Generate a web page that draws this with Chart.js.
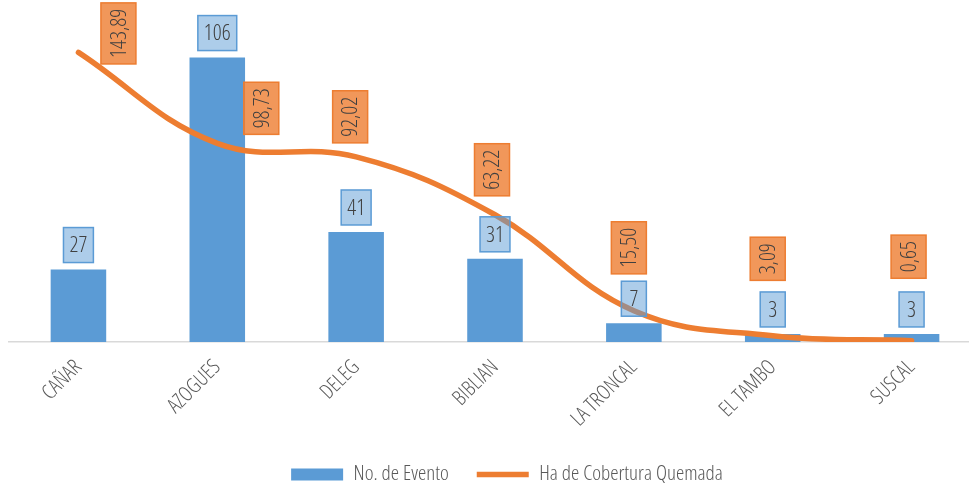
<!DOCTYPE html>
<html><head><meta charset="utf-8">
<script src="https://cdn.jsdelivr.net/npm/chart.js@4"></script>
<style>
html,body{margin:0;padding:0;background:#fff;overflow:hidden;}
#wrap{position:relative;width:969px;height:486px;overflow:hidden;}
#wrap canvas{position:absolute;left:0;top:0;}
</style></head><body>
<div id="wrap"><canvas id="c" width="981" height="486" style="width:981px;height:486px"></canvas></div>
<script>
// ---- data ----
const categories = ['CAÑAR','AZOGUES','DELEG','BIBLIAN','LA TRONCAL','EL TAMBO','SUSCAL'];
const eventos = [27, 106, 41, 31, 7, 3, 3];
const hectareas = [143.89, 98.73, 92.02, 63.22, 15.50, 3.09, 0.65];
const seriesNames = ['No. de Evento', 'Ha de Cobertura Quemada'];
// label box offsets (px) relative to each line point, as placed in the original
const lineLabelOffsets = [[40,-19],[44,-35],[-6,-40],[-3,-45],[-5,-63],[-5,-77],[-3,-84]];

const FAMILY = '"Open Sans", "Roboto", sans-serif';
const BLUE = '#5B9BD5', ORANGE = '#ED7D31';
const fmt = v => v.toFixed(2).replace('.', ',');

function box(ctx, x, y, w, h, fill, stroke){
  ctx.fillStyle = fill; ctx.fillRect(x, y, w, h);
  ctx.lineWidth = 1.5; ctx.strokeStyle = stroke; ctx.strokeRect(x, y, w, h);
}

const labelPlugin = {
  id: 'boxLabels',
  afterDatasetsDraw(chart){
    const ctx = chart.ctx;
    const barMeta = chart.getDatasetMeta(0), lineMeta = chart.getDatasetMeta(1);
    ctx.save();
    ctx.font = 'normal 300 condensed 22px ' + FAMILY;
    ctx.textAlign = 'center'; ctx.textBaseline = 'middle';
    barMeta.data.forEach((el, i) => {
      const txt = String(eventos[i]);
      const w = Math.max(ctx.measureText(txt).width + 12, 25), h = 35;
      const bottom = el.y - 7;
      box(ctx, el.x - w/2, bottom - h, w, h, 'rgba(91,155,213,0.5)', BLUE);
      ctx.fillStyle = '#404040';
      ctx.fillText(txt, el.x, bottom - h/2 + 1);
    });
    lineMeta.data.forEach((el, i) => {
      const txt = fmt(hectareas[i]);
      const tw = ctx.measureText(txt).width;
      const w = 35, h = tw + 12;
      const cx = el.x + lineLabelOffsets[i][0], cy = el.y + lineLabelOffsets[i][1];
      box(ctx, cx - w/2, cy - h/2, w, h, 'rgba(237,125,49,0.8)', ORANGE);
      ctx.save();
      ctx.translate(cx, cy); ctx.rotate(-Math.PI/2);
      ctx.fillStyle = '#404040';
      ctx.fillText(txt, 0, 1);
      ctx.restore();
    });
    ctx.restore();
  }
};

const legendPlace = {
  id: 'legendPlace',
  beforeLayout(chart){
    const lg = chart.legend;
    if (lg && !lg._patched){
      const orig = lg.fit.bind(lg);
      lg.fit = function(){ orig(); this.height = 40; };
      lg._patched = true;
    }
  },
  afterLayout(chart){
    const lg = chart.legend;
    if (!lg) return;
    lg.left += 12; lg.right += 12;
    lg.top = 436; lg.bottom = 486;
  }
};

new Chart(document.getElementById('c'), {
  data: {
    labels: categories,
    datasets: [
      {
        type: 'bar', label: seriesNames[0], data: eventos, yAxisID: 'y',
        backgroundColor: BLUE, borderWidth: 0, order: 1,
        categoryPercentage: 1.0, barPercentage: 0.4, pointStyle: 'rect'
      },
      {
        type: 'line', label: seriesNames[1], data: hectareas, yAxisID: 'y1',
        borderColor: ORANGE, backgroundColor: ORANGE, borderWidth: 5.5,
        borderCapStyle: 'round', borderJoinStyle: 'round',
        tension: 0.4, pointRadius: 0, pointHoverRadius: 0, fill: false, order: 0,
        pointStyle: 'line'
      }
    ]
  },
  options: {
    responsive: false, animation: false, devicePixelRatio: 1,
    layout: { padding: { left: 9, right: 0, top: 20, bottom: 0 } },
    scales: {
      x: {
        offset: true,
        grid: { display: false, drawTicks: false },
        border: { display: true, color: '#D9D9D9', width: 1.5 },
        ticks: { color: '#595959', font: { family: FAMILY, size: 21, weight: '300 condensed' },
                 minRotation: 45, maxRotation: 45, padding: 13, autoSkip: false },
        afterFit(s){ s.height = 104; }
      },
      y: { display: false, min: 0, max: 120 },
      y1: { display: false, min: 0, max: 160, position: 'right' }
    },
    plugins: {
      legend: {
        position: 'bottom',
        labels: {
          usePointStyle: true, pointStyleWidth: 52, boxHeight: 12,
          padding: 28, color: '#595959', font: { family: FAMILY, size: 21, weight: '300 condensed' },
          sort: (a, b) => a.datasetIndex - b.datasetIndex
        }
      },
      tooltip: { enabled: false }
    }
  },
  plugins: [labelPlugin, legendPlace]
});
</script>
</body></html>
